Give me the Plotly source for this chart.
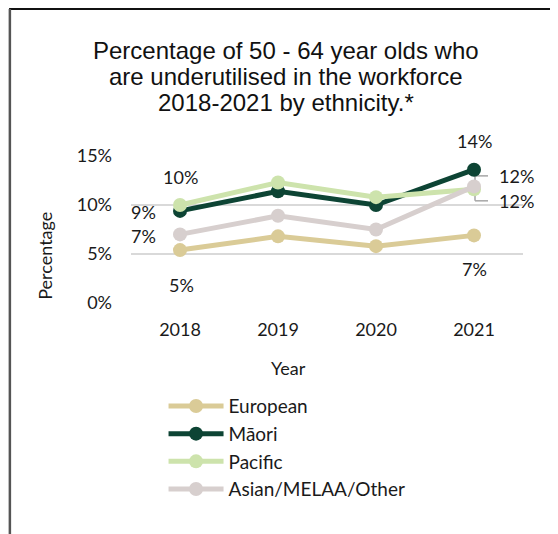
import plotly.graph_objects as go

years = [2018, 2019, 2020, 2021]
series_names = ["European", "Māori", "Pacific", "Asian/MELAA/Other"]
european = [5.4, 6.8, 5.8, 6.9]
maori = [9.4, 11.4, 10.0, 13.6]
pacific = [10.0, 12.3, 10.8, 11.6]
asian = [7.0, 8.9, 7.5, 11.9]
colors = ["#DACB97", "#0D4434", "#CDE3AC", "#D7CFCE"]
y_ticks = [0, 5, 10, 15]
y_tick_labels = ["0%", "5%", "10%", "15%"]
title_lines = ["Percentage of 50 - 64 year olds who",
               "are underutilised in the workforce",
               "2018-2021 by ethnicity.*"]

values = [european, maori, pacific, asian]
FONT_FAMILY = "Lato, 'Open Sans', sans-serif"
TICK_FONT = dict(family=FONT_FAMILY, size=18, color="#1a1a1a")

fig = go.Figure()
for name, vals, col in zip(series_names, values, colors):
    fig.add_trace(go.Scatter(
        x=years, y=vals, name=name, mode="lines+markers",
        line=dict(color=col, width=5),
        marker=dict(color=col, size=14),
        legendgroup=name,
        hoverinfo="skip",
    ))

def pct(v):
    return f"{int(v + 0.5)}%"

# label placement: (series index, year index, xanchor, xshift, yshift)
label_specs = [
    (2, 0, "center", 0, 28),     # Pacific 2018 above
    (1, 0, "right", -22, -1),    # Maori 2018 left
    (3, 0, "right", -22, -2),    # Asian 2018 left
    (0, 0, "center", 1, -35),    # European 2018 below
    (1, 3, "center", 0, 29),     # Maori 2021 above
    (0, 3, "center", 0, -34),    # European 2021 below
    (3, 3, "left", 23, 10),      # Asian 2021 right
    (2, 3, "left", 23, -12),     # Pacific 2021 right
]
for si, yi, xa, xs, ys in label_specs:
    v = values[si][yi]
    fig.add_annotation(x=years[yi], y=v, text=pct(v), showarrow=False,
                       xanchor=xa, yanchor="middle", xshift=xs, yshift=ys,
                       font=TICK_FONT)

# leader lines for the two right-hand labels at 2021
for si, off in [(3, 10.5), (2, -11.5)]:
    v = values[si][3]
    fig.add_shape(type="line", xref="x", yref="y",
                  xsizemode="pixel", ysizemode="pixel",
                  xanchor=years[3], yanchor=v,
                  x0=1, x1=1, y0=0, y1=off,
                  line=dict(color="#A6A6A6", width=1.5), layer="below")
    fig.add_shape(type="line", xref="x", yref="y",
                  xsizemode="pixel", ysizemode="pixel",
                  xanchor=years[3], yanchor=v,
                  x0=1, x1=14, y0=off, y1=off,
                  line=dict(color="#A6A6A6", width=1.5), layer="below")

# chart title (three lines, tight line spacing)
for line, yp in zip(title_lines, [1.721, 1.541, 1.361]):
    fig.add_annotation(text=line, xref="paper", yref="paper", x=0.395, y=yp,
                       showarrow=False, xanchor="center", yanchor="middle",
                       font=dict(family="Liberation Sans, Arial, sans-serif", size=24,
                                 color="#111111"))

# axis titles
fig.add_annotation(text="Year", xref="paper", yref="paper", x=0.403, y=-0.442,
                   showarrow=False, xanchor="center", yanchor="middle", font=TICK_FONT)
fig.add_annotation(text="Percentage", xref="paper", yref="paper", x=-0.22, y=0.32,
                   showarrow=False, xanchor="center", yanchor="middle", textangle=-90,
                   font=TICK_FONT)

# frame lines (top and left)
fig.add_shape(type="line", xref="paper", yref="paper", x0=-0.311, x1=1.2, y0=2.0, y1=2.0,
              line=dict(color="#111111", width=2))
fig.add_shape(type="line", xref="paper", yref="paper", x0=-0.309, x1=-0.309, y0=2.0, y1=-1.7,
              line=dict(color="#555555", width=2.5))

fig.update_layout(
    width=558, height=534,
    margin=dict(l=123, r=43, t=148, b=239),
    paper_bgcolor="white", plot_bgcolor="white",
    xaxis=dict(range=[2017.5, 2021.5], tickvals=years, ticktext=[str(y) for y in years],
               showgrid=False, zeroline=False, showline=False, ticks="",
               ticklabelstandoff=14, tickfont=TICK_FONT, fixedrange=True),
    yaxis=dict(range=[0, 15], tickvals=y_ticks, ticktext=y_tick_labels,
               showgrid=True, gridcolor="#D9D9D9", gridwidth=1.5, zeroline=False,
               showline=False, ticks="", ticklabelstandoff=18, tickfont=TICK_FONT,
               fixedrange=True),
    showlegend=True,
    legend=dict(x=0.083, y=-0.572, xanchor="left", yanchor="top", orientation="v",
                font=dict(family=FONT_FAMILY, size=19, color="#1a1a1a"),
                itemwidth=55, tracegroupgap=0, bgcolor="rgba(0,0,0,0)"),
)

fig.write_html("out.html", config={"displayModeBar": False})
